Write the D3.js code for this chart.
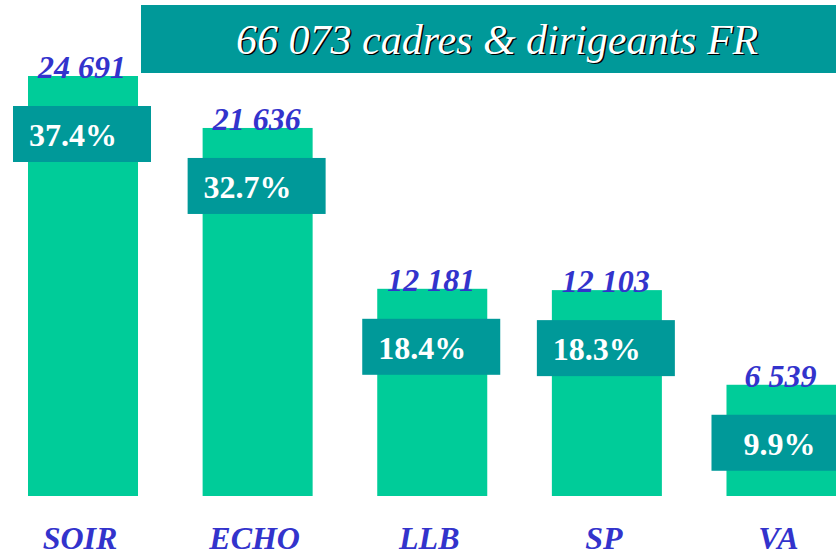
<!DOCTYPE html>
<html>
<head>
<meta charset="utf-8">
<script src="https://cdn.jsdelivr.net/npm/d3@7"></script>
<style>
  html, body { margin: 0; padding: 0; background: #ffffff; overflow: hidden; }
  svg { display: block; }
</style>
</head>
<body>
<svg id="chart" width="836" height="557"></svg>
<script>
const categories = ["SOIR", "ECHO", "LLB", "SP", "VA"];
const values = [24691, 21636, 12181, 12103, 6539];
const valueLabels = ["24 691", "21 636", "12 181", "12 103", "6 539"];
const percentLabels = ["37.4%", "32.7%", "18.4%", "18.3%", "9.9%"];
const titleText = "66 073 cadres & dirigeants FR";

const W = 836, H = 557;
const svg = d3.select("#chart");

const barColor = "#00CC99";
const boxColor = "#009999";
const blue = "#3333CC";

const x = d3.scaleBand()
  .domain(categories)
  .range([28, 836.5])
  .paddingInner(0.37)
  .paddingOuter(0);

const y = d3.scaleLinear()
  .domain([0, 24691])
  .range([496, 76]);

const data = categories.map((c, i) => ({
  cat: c, value: values[i], vlabel: valueLabels[i], pct: percentLabels[i]
}));

// Title box
svg.append("rect")
  .attr("x", 141).attr("y", 5)
  .attr("width", W - 141 + 10).attr("height", 68)
  .attr("fill", boxColor);

const titleG = svg.append("g")
  .attr("font-family", "'Liberation Serif', 'Times New Roman', serif")
  .attr("font-style", "italic")
  .attr("font-size", 42);
titleG.append("text")
  .attr("x", 237.5).attr("y", 55)
  .attr("fill", "#000000")
  .text(titleText);
titleG.append("text")
  .attr("x", 236).attr("y", 53.5)
  .attr("fill", "#ffffff")
  .text(titleText);

// Bars
svg.append("g").selectAll("rect")
  .data(data)
  .join("rect")
  .attr("x", d => x(d.cat))
  .attr("y", d => y(d.value))
  .attr("width", x.bandwidth())
  .attr("height", d => y(0) - y(d.value))
  .attr("fill", barColor);

// Percentage boxes
const boxW = 138, boxH = 56;
const boxes = svg.append("g").selectAll("g")
  .data(data)
  .join("g")
  .attr("transform", d => `translate(${x(d.cat) - 15},${y(d.value) + 30})`);
boxes.append("rect")
  .attr("width", boxW).attr("height", boxH)
  .attr("fill", boxColor);
boxes.append("text")
  .attr("x", 104).attr("y", 40)
  .attr("text-anchor", "end")
  .attr("fill", "#ffffff")
  .attr("font-family", "'Liberation Serif', 'Times New Roman', serif")
  .attr("font-weight", "bold")
  .attr("font-size", 32)
  .text(d => d.pct);

// Value labels
svg.append("g").selectAll("text")
  .data(data)
  .join("text")
  .attr("x", d => x(d.cat) + x.bandwidth() / 2 - 1)
  .attr("y", d => y(d.value) + 2)
  .attr("text-anchor", "middle")
  .attr("fill", blue)
  .attr("font-family", "'Liberation Serif', 'Times New Roman', serif")
  .attr("font-style", "italic")
  .attr("font-weight", "bold")
  .attr("font-size", 32)
  .text(d => d.vlabel);

// Category axis
const xAxis = d3.axisBottom(x).tickSize(0).tickPadding(0);
const axisG = svg.append("g")
  .attr("transform", `translate(-3,${549})`)
  .call(xAxis);
axisG.select(".domain").remove();
axisG.selectAll("text")
  .attr("dy", 0)
  .attr("y", 0)
  .attr("fill", blue)
  .attr("font-family", "'Liberation Serif', 'Times New Roman', serif")
  .attr("font-style", "italic")
  .attr("font-weight", "bold")
  .attr("font-size", 32);
</script>
</body>
</html>
